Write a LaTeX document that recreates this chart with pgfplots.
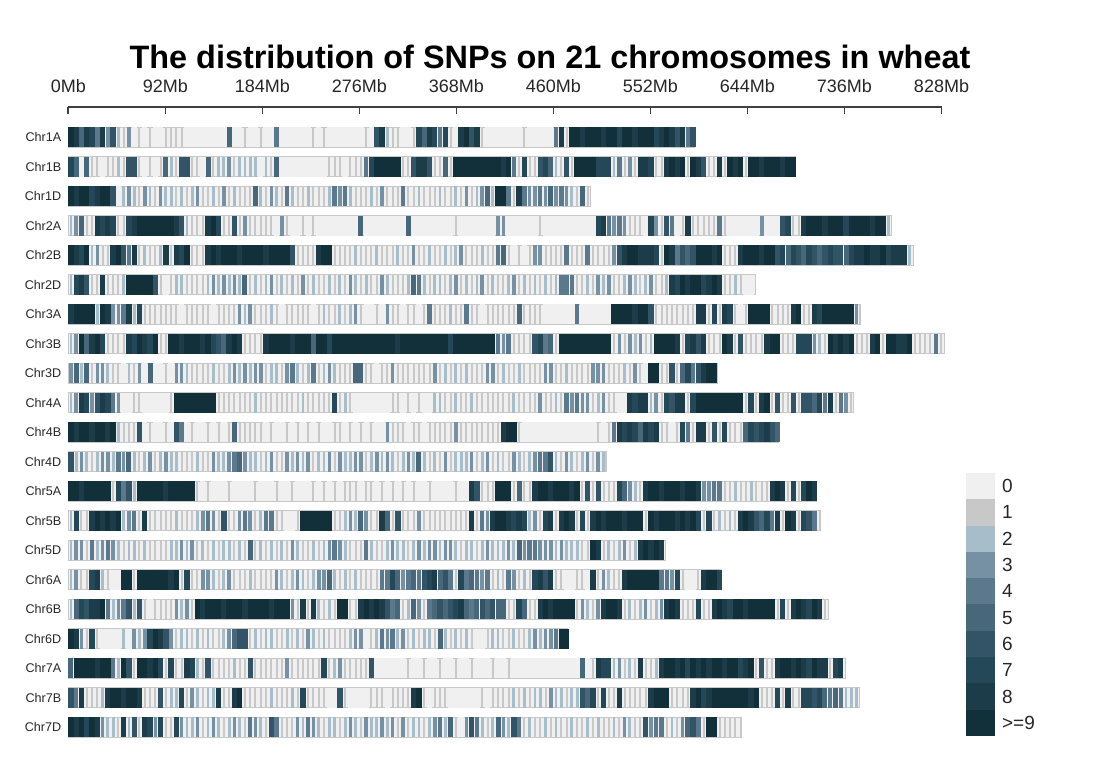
\documentclass[border=0pt]{standalone}
\usepackage{pgfplots}
\pgfplotsset{compat=1.18}
\usepackage{fontspec}
\setmainfont{Liberation Sans}
\definecolor{c0}{HTML}{F0F0F0}
\definecolor{c1}{HTML}{C8C8C8}
\definecolor{c2}{HTML}{A8BDCA}
\definecolor{c3}{HTML}{7690A4}
\definecolor{c4}{HTML}{5B788C}
\definecolor{c5}{HTML}{49677A}
\definecolor{c6}{HTML}{325466}
\definecolor{c7}{HTML}{254859}
\definecolor{c8}{HTML}{1B3C48}
\definecolor{c9}{HTML}{12303A}
\pgfplotsset{
  stripe/.style={scatter, only marks, mark=|, mark size=5pt,
    scatter src=explicit symbolic,
    scatter/classes={0={draw=c0,line width=2.7pt},1={draw=c1,line width=1.0pt},2={draw=c2,line width=1.4pt},3={draw=c3,line width=1.8pt},4={draw=c4,line width=2.2pt},5={draw=c5,line width=2.5pt},6={draw=c6,line width=2.7pt},7={draw=c7,line width=2.7pt},8={draw=c8,line width=2.7pt},9={draw=c9,line width=2.7pt}}},
  legendstripe/.style={scatter, only marks, mark=|, mark size=6.6pt,
    scatter src=explicit symbolic,
    scatter/classes={0={draw=c0},1={draw=c1},2={draw=c2},3={draw=c3},4={draw=c4},5={draw=c5},6={draw=c6},7={draw=c7},8={draw=c8},9={draw=c9}},
    mark options={line width=14.6pt}},
}
\begin{document}
\begin{tikzpicture}
\path[use as bounding box] (0,0) rectangle (549pt,-390pt);
\node[anchor=base, font=\bfseries\fontsize{16.2}{19}\selectfont] at (275pt,-34.15pt) {The distribution of SNPs on 21 chromosomes in wheat};
\begin{axis}[
  at={(34.15pt,-53.35pt)}, anchor=north west,
  scale only axis, width=436.6pt, height=317.7pt,
  xmin=0, xmax=828, ymin=-1.037, ymax=20.5, y dir=reverse,
  clip=false,
  axis x line*=top, axis y line*=left,
  x axis line style={-, draw=black!75, line width=0.8pt},
  y axis line style={draw=none},
  tick align=inside, major tick length=3.8pt,
  xtick style={draw=black!75, line width=0.8pt},
  ytick style={draw=none},
  xtick={0,92,184,276,368,460,552,644,736,828},
  xticklabels={0Mb,92Mb,184Mb,276Mb,368Mb,460Mb,552Mb,644Mb,736Mb,828Mb},
  xticklabel style={font=\fontsize{9}{10}\selectfont, text=black!85, inner sep=0pt, yshift=6.7pt},
  ytick={0,...,20},
  yticklabels={Chr1A,Chr1B,Chr1D,Chr2A,Chr2B,Chr2D,Chr3A,Chr3B,Chr3D,Chr4A,Chr4B,Chr4D,Chr5A,Chr5B,Chr5D,Chr6A,Chr6B,Chr6D,Chr7A,Chr7B,Chr7D},
  yticklabel style={font=\fontsize{6.3}{7}\selectfont, text=black!85},
]
\addplot[xbar, bar width=10pt, fill=c0, draw=c1, line width=0.6pt] coordinates {
(594.1,0) (689.9,1) (495.5,2) (780.8,3) (801.3,4) (651.9,5) (750.8,6) (830.8,7) (615.6,8) (744.6,9) (673.6,10)
(509.9,11) (709.8,12) (713.1,13) (566.1,14) (618.1,15) (720.9,16) (473.6,17) (736.7,18) (750.6,19) (638.7,20)};
% Chr1A
\addplot[stripe] table[row sep=\\, header=false, x expr=\coordindex*5+2.5, y expr=0, meta index=0] {
9\\8\\5\\8\\7\\4\\8\\3\\6\\2\\
1\\3\\0\\1\\0\\1\\0\\0\\1\\1\\
1\\1\\0\\0\\0\\0\\0\\0\\0\\0\\
5\\0\\0\\1\\0\\0\\1\\0\\0\\4\\
0\\0\\0\\0\\0\\0\\1\\0\\1\\0\\
0\\0\\0\\0\\0\\0\\1\\0\\6\\8\\
2\\1\\1\\0\\0\\1\\7\\5\\8\\7\\
4\\7\\1\\0\\8\\9\\6\\8\\1\\0\\
0\\0\\0\\0\\0\\0\\1\\0\\0\\0\\
0\\0\\4\\8\\1\\9\\9\\8\\9\\9\\
9\\8\\9\\9\\7\\9\\9\\8\\9\\9\\
9\\7\\8\\9\\8\\6\\8\\4\\6\\
};
% Chr1B
\addplot[stripe] table[row sep=\\, header=false, x expr=\coordindex*5+2.5, y expr=1, meta index=0] {
7\\5\\0\\5\\1\\1\\0\\1\\1\\2\\
1\\6\\6\\1\\0\\1\\0\\1\\5\\2\\
1\\6\\6\\1\\1\\0\\5\\1\\2\\2\\
3\\1\\2\\2\\2\\2\\0\\2\\1\\5\\
0\\0\\0\\0\\0\\0\\0\\0\\0\\1\\
1\\1\\0\\1\\1\\1\\4\\7\\9\\9\\
9\\9\\9\\1\\1\\6\\8\\8\\6\\1\\
1\\5\\1\\9\\9\\9\\9\\9\\9\\9\\
9\\9\\8\\9\\4\\1\\7\\1\\1\\6\\
7\\5\\2\\1\\6\\1\\9\\9\\9\\9\\
7\\7\\7\\2\\4\\1\\3\\1\\8\\8\\
7\\1\\1\\8\\9\\8\\9\\1\\9\\8\\
6\\1\\1\\8\\1\\9\\8\\9\\1\\9\\
9\\8\\9\\9\\9\\8\\9\\9\\
};
% Chr1D
\addplot[stripe] table[row sep=\\, header=false, x expr=\coordindex*5+2.5, y expr=2, meta index=0] {
9\\8\\9\\9\\7\\8\\9\\9\\6\\0\\
2\\3\\2\\1\\3\\2\\1\\3\\2\\2\\
1\\2\\1\\2\\3\\1\\1\\2\\1\\3\\
1\\2\\1\\1\\1\\5\\2\\1\\3\\2\\
1\\4\\2\\1\\1\\2\\1\\1\\1\\2\\
4\\3\\4\\2\\1\\1\\1\\2\\1\\3\\
1\\1\\1\\4\\1\\1\\2\\1\\1\\1\\
2\\1\\1\\2\\1\\3\\1\\2\\3\\5\\
2\\9\\9\\4\\1\\8\\4\\3\\3\\4\\
3\\5\\3\\4\\3\\2\\1\\5\\1\\
};
% Chr2A
\addplot[stripe] table[row sep=\\, header=false, x expr=\coordindex*5+2.5, y expr=3, meta index=0] {
2\\3\\5\\1\\1\\8\\7\\8\\7\\1\\
1\\7\\8\\9\\9\\9\\9\\9\\9\\9\\
8\\6\\2\\1\\1\\1\\8\\9\\7\\1\\
1\\6\\1\\3\\1\\1\\1\\1\\1\\0\\
3\\1\\0\\0\\1\\0\\1\\0\\0\\0\\
0\\0\\0\\0\\0\\5\\0\\0\\0\\0\\
0\\0\\0\\0\\5\\0\\0\\0\\0\\0\\
0\\0\\0\\1\\0\\0\\0\\0\\0\\0\\
0\\3\\3\\0\\0\\0\\0\\0\\0\\1\\
0\\0\\0\\0\\0\\0\\0\\0\\0\\0\\
7\\8\\4\\3\\4\\3\\1\\1\\1\\0\\
7\\3\\1\\6\\4\\0\\1\\8\\1\\1\\
1\\1\\1\\4\\1\\0\\0\\0\\0\\0\\
0\\3\\0\\0\\0\\6\\7\\1\\1\\8\\
9\\9\\9\\8\\9\\9\\9\\7\\9\\9\\
9\\9\\8\\9\\9\\2\\
};
% Chr2B
\addplot[stripe] table[row sep=\\, header=false, x expr=\coordindex*5+2.5, y expr=4, meta index=0] {
9\\8\\7\\9\\2\\3\\1\\1\\8\\9\\
6\\4\\8\\1\\2\\1\\1\\2\\8\\1\\
8\\7\\9\\1\\1\\1\\8\\9\\8\\9\\
9\\9\\8\\9\\9\\9\\9\\8\\9\\9\\
9\\9\\6\\1\\1\\1\\1\\8\\9\\9\\
1\\1\\1\\1\\2\\1\\1\\1\\2\\1\\
1\\1\\2\\1\\1\\3\\1\\1\\2\\1\\
1\\2\\1\\2\\3\\1\\1\\1\\2\\1\\
1\\4\\5\\1\\0\\1\\0\\1\\3\\3\\
1\\1\\1\\1\\4\\1\\1\\1\\4\\1\\
1\\1\\1\\3\\6\\8\\9\\9\\8\\8\\
8\\7\\1\\9\\8\\4\\6\\5\\6\\9\\
9\\9\\8\\9\\1\\1\\1\\8\\9\\9\\
9\\8\\9\\9\\6\\7\\5\\7\\6\\5\\
7\\6\\5\\6\\7\\6\\6\\5\\7\\8\\
8\\9\\8\\8\\9\\7\\8\\8\\8\\2\\
};
% Chr2D
\addplot[stripe] table[row sep=\\, header=false, x expr=\coordindex*5+2.5, y expr=5, meta index=0] {
2\\7\\8\\6\\1\\1\\8\\1\\1\\1\\
2\\9\\9\\9\\9\\9\\6\\1\\0\\1\\
2\\2\\1\\1\\1\\1\\2\\3\\2\\3\\
2\\3\\2\\5\\1\\2\\1\\2\\3\\1\\
2\\1\\2\\1\\3\\1\\2\\1\\1\\2\\
1\\2\\1\\3\\2\\1\\2\\1\\1\\3\\
2\\1\\1\\1\\2\\5\\4\\2\\1\\2\\
2\\1\\2\\3\\1\\2\\1\\2\\3\\1\\
2\\1\\1\\2\\3\\1\\2\\1\\2\\1\\
2\\1\\2\\4\\4\\4\\1\\1\\2\\1\\
3\\2\\3\\1\\1\\2\\3\\2\\1\\2\\
3\\1\\1\\2\\8\\7\\9\\8\\9\\9\\
7\\8\\9\\8\\1\\1\\2\\1\\0\\0\\
};
% Chr3A
\addplot[stripe] table[row sep=\\, header=false, x expr=\coordindex*5+2.5, y expr=6, meta index=0] {
8\\9\\9\\9\\9\\2\\9\\8\\3\\3\\
4\\8\\2\\7\\1\\1\\1\\1\\1\\1\\
1\\0\\1\\1\\1\\1\\1\\0\\1\\1\\
1\\1\\3\\2\\3\\1\\1\\1\\2\\1\\
0\\1\\1\\1\\1\\1\\0\\1\\2\\1\\
1\\2\\1\\2\\3\\1\\0\\0\\1\\0\\
3\\1\\1\\0\\1\\1\\0\\1\\4\\1\\
1\\1\\2\\1\\1\\4\\1\\1\\0\\1\\
1\\1\\1\\1\\1\\5\\1\\1\\1\\1\\
0\\0\\0\\0\\0\\0\\4\\0\\0\\0\\
0\\0\\0\\9\\9\\9\\9\\8\\9\\9\\
6\\1\\1\\1\\1\\1\\1\\1\\1\\8\\
8\\1\\7\\1\\8\\7\\1\\0\\1\\9\\
9\\9\\9\\1\\1\\1\\1\\8\\9\\1\\
1\\8\\7\\9\\9\\9\\9\\9\\9\\3\\
};
% Chr3B
\addplot[stripe] table[row sep=\\, header=false, x expr=\coordindex*5+2.5, y expr=7, meta index=0] {
2\\3\\9\\5\\8\\9\\7\\1\\1\\1\\
1\\8\\7\\9\\8\\7\\9\\1\\1\\9\\
9\\8\\9\\9\\9\\8\\9\\7\\6\\5\\
8\\9\\8\\1\\1\\1\\1\\8\\9\\9\\
9\\9\\8\\9\\9\\9\\5\\9\\9\\7\\
9\\9\\9\\9\\9\\9\\9\\9\\9\\9\\
9\\9\\8\\9\\9\\9\\9\\9\\9\\9\\
9\\9\\7\\9\\9\\9\\9\\9\\9\\9\\
9\\4\\3\\4\\1\\1\\1\\1\\6\\7\\
4\\5\\1\\9\\9\\9\\9\\9\\9\\9\\
9\\9\\9\\1\\3\\1\\3\\2\\3\\1\\
2\\9\\9\\9\\9\\8\\1\\7\\8\\6\\
8\\1\\1\\1\\9\\8\\1\\6\\1\\1\\
1\\1\\8\\9\\9\\1\\1\\1\\7\\7\\
7\\3\\2\\1\\9\\8\\9\\8\\9\\1\\
1\\1\\8\\9\\1\\9\\9\\8\\8\\9\\
1\\1\\1\\1\\4\\1\\
};
% Chr3D
\addplot[stripe] table[row sep=\\, header=false, x expr=\coordindex*5+2.5, y expr=8, meta index=0] {
3\\5\\2\\5\\1\\3\\3\\2\\1\\1\\
0\\2\\1\\3\\0\\5\\0\\0\\1\\0\\
3\\3\\2\\1\\1\\1\\1\\2\\1\\1\\
2\\3\\2\\3\\2\\3\\3\\1\\2\\2\\
1\\3\\4\\2\\1\\2\\4\\1\\2\\3\\
2\\1\\1\\1\\5\\5\\1\\1\\0\\1\\
1\\3\\1\\1\\1\\1\\1\\1\\1\\3\\
1\\2\\1\\2\\1\\2\\1\\1\\1\\3\\
3\\1\\2\\1\\1\\2\\1\\1\\1\\1\\
3\\3\\1\\1\\2\\1\\1\\1\\1\\3\\
3\\3\\1\\1\\1\\2\\1\\3\\1\\0\\
9\\9\\1\\1\\6\\1\\5\\7\\4\\6\\
8\\9\\9\\
};
% Chr4A
\addplot[stripe] table[row sep=\\, header=false, x expr=\coordindex*5+2.5, y expr=9, meta index=0] {
2\\3\\8\\7\\3\\6\\8\\7\\4\\3\\
0\\0\\1\\1\\0\\0\\0\\0\\0\\1\\
9\\9\\9\\9\\9\\9\\9\\9\\1\\1\\
1\\1\\1\\1\\1\\2\\1\\1\\1\\1\\
1\\1\\1\\1\\2\\1\\1\\1\\1\\1\\
7\\1\\2\\1\\0\\0\\0\\0\\0\\0\\
0\\1\\1\\0\\1\\0\\1\\0\\0\\2\\
2\\1\\1\\2\\1\\1\\2\\1\\1\\1\\
1\\1\\1\\1\\2\\1\\1\\1\\1\\3\\
1\\1\\2\\1\\4\\3\\4\\3\\3\\1\\
2\\3\\1\\1\\0\\0\\8\\7\\8\\8\\
2\\3\\1\\7\\6\\8\\8\\1\\7\\9\\
9\\9\\9\\9\\9\\9\\9\\9\\1\\7\\
1\\8\\9\\1\\6\\1\\1\\6\\1\\6\\
6\\5\\7\\4\\8\\1\\4\\3\\1\\
};
% Chr4B
\addplot[stripe] table[row sep=\\, header=false, x expr=\coordindex*5+2.5, y expr=10, meta index=0] {
9\\8\\9\\9\\8\\9\\9\\8\\9\\2\\
1\\1\\1\\6\\0\\1\\0\\0\\1\\0\\
6\\4\\0\\1\\0\\0\\1\\0\\1\\0\\
1\\5\\1\\1\\1\\1\\1\\0\\1\\0\\
0\\1\\0\\1\\0\\1\\0\\1\\0\\0\\
1\\1\\0\\1\\0\\1\\0\\1\\0\\0\\
3\\1\\1\\1\\0\\1\\1\\0\\1\\1\\
1\\1\\1\\3\\1\\1\\1\\1\\1\\1\\
1\\1\\8\\9\\9\\1\\0\\0\\0\\0\\
0\\0\\0\\0\\0\\0\\0\\0\\0\\0\\
1\\0\\1\\4\\8\\7\\8\\7\\5\\8\\
7\\8\\1\\1\\0\\1\\7\\4\\1\\8\\
8\\1\\6\\1\\7\\1\\1\\1\\5\\7\\
6\\7\\8\\6\\5\\
};
% Chr4D
\addplot[stripe] table[row sep=\\, header=false, x expr=\coordindex*5+2.5, y expr=11, meta index=0] {
6\\2\\3\\2\\1\\2\\3\\3\\2\\4\\
3\\5\\2\\1\\2\\3\\1\\2\\3\\2\\
2\\1\\1\\1\\2\\1\\1\\3\\2\\2\\
3\\4\\5\\3\\2\\2\\1\\2\\3\\1\\
1\\3\\2\\3\\2\\3\\1\\2\\2\\3\\
1\\3\\2\\2\\3\\3\\1\\2\\3\\2\\
3\\2\\1\\2\\3\\2\\5\\2\\1\\2\\
1\\3\\1\\2\\2\\2\\3\\1\\2\\3\\
1\\2\\1\\1\\3\\2\\1\\2\\3\\4\\
4\\6\\2\\1\\3\\2\\1\\2\\3\\1\\
3\\2\\
};
% Chr5A
\addplot[stripe] table[row sep=\\, header=false, x expr=\coordindex*5+2.5, y expr=12, meta index=0] {
9\\9\\8\\9\\9\\9\\9\\9\\1\\7\\
4\\6\\2\\9\\9\\9\\9\\9\\8\\9\\
9\\9\\9\\9\\1\\0\\1\\0\\0\\0\\
1\\0\\0\\0\\0\\1\\0\\0\\0\\1\\
0\\0\\1\\0\\0\\0\\1\\0\\1\\0\\
1\\0\\1\\1\\1\\0\\1\\1\\0\\1\\
0\\1\\0\\1\\0\\1\\0\\0\\1\\0\\
0\\0\\0\\1\\0\\0\\8\\6\\1\\1\\
1\\9\\9\\9\\1\\5\\1\\1\\8\\9\\
9\\8\\9\\9\\9\\8\\9\\1\\6\\1\\
6\\1\\1\\1\\7\\5\\3\\2\\1\\8\\
9\\9\\8\\9\\9\\9\\8\\9\\9\\8\\
3\\3\\4\\4\\1\\1\\2\\1\\1\\2\\
1\\1\\1\\8\\9\\8\\1\\7\\1\\7\\
9\\8\\
};
% Chr5B
\addplot[stripe] table[row sep=\\, header=false, x expr=\coordindex*5+2.5, y expr=13, meta index=0] {
2\\7\\1\\1\\8\\9\\8\\9\\8\\9\\
2\\3\\4\\1\\8\\1\\1\\1\\1\\1\\
2\\1\\1\\1\\2\\3\\4\\3\\1\\6\\
1\\1\\3\\4\\3\\1\\2\\4\\4\\1\\
1\\0\\0\\1\\9\\9\\9\\9\\9\\9\\
1\\1\\2\\3\\2\\5\\3\\1\\1\\8\\
5\\1\\6\\1\\1\\1\\3\\1\\1\\1\\
1\\1\\1\\1\\1\\1\\8\\1\\4\\3\\
8\\9\\9\\8\\7\\8\\7\\2\\3\\1\\
7\\8\\1\\8\\9\\8\\1\\7\\1\\8\\
9\\8\\9\\9\\9\\8\\9\\9\\9\\1\\
9\\8\\9\\9\\9\\8\\9\\8\\9\\7\\
1\\7\\1\\2\\1\\2\\1\\8\\9\\8\\
6\\5\\7\\4\\8\\1\\9\\8\\1\\7\\
6\\4\\1\\
};
% Chr5D
\addplot[stripe] table[row sep=\\, header=false, x expr=\coordindex*5+2.5, y expr=14, meta index=0] {
2\\3\\3\\1\\4\\2\\3\\4\\3\\2\\
1\\2\\2\\1\\2\\1\\1\\1\\1\\2\\
2\\3\\2\\3\\1\\2\\1\\2\\1\\2\\
2\\1\\2\\1\\5\\1\\2\\1\\2\\1\\
2\\1\\3\\2\\1\\1\\2\\1\\2\\3\\
4\\3\\2\\1\\1\\1\\4\\2\\1\\1\\
2\\3\\2\\2\\1\\2\\3\\2\\3\\3\\
2\\3\\3\\2\\1\\2\\2\\1\\2\\3\\
2\\2\\2\\3\\2\\5\\3\\4\\4\\3\\
3\\3\\2\\3\\2\\2\\2\\1\\1\\9\\
8\\1\\2\\1\\2\\3\\1\\2\\8\\9\\
8\\9\\8\\
};
% Chr6A
\addplot[stripe] table[row sep=\\, header=false, x expr=\coordindex*5+2.5, y expr=15, meta index=0] {
2\\3\\1\\1\\7\\8\\2\\1\\0\\0\\
9\\9\\1\\9\\9\\9\\9\\9\\9\\8\\
9\\1\\7\\1\\1\\3\\3\\2\\1\\2\\
3\\1\\1\\1\\2\\1\\1\\1\\1\\3\\
2\\1\\2\\3\\2\\1\\2\\3\\3\\5\\
2\\1\\2\\1\\2\\1\\1\\1\\1\\4\\
4\\7\\5\\3\\4\\5\\4\\6\\7\\8\\
5\\6\\4\\1\\7\\4\\5\\4\\3\\4\\
1\\2\\1\\4\\3\\1\\2\\1\\7\\8\\
6\\8\\1\\1\\0\\0\\1\\1\\0\\8\\
1\\3\\2\\1\\1\\8\\9\\9\\9\\9\\
9\\9\\4\\4\\3\\7\\1\\0\\0\\1\\
8\\9\\9\\7\\
};
% Chr6B
\addplot[stripe] table[row sep=\\, header=false, x expr=\coordindex*5+2.5, y expr=16, meta index=0] {
2\\5\\7\\6\\8\\8\\9\\4\\2\\3\\
4\\6\\2\\6\\1\\0\\1\\1\\1\\1\\
3\\2\\3\\1\\9\\8\\9\\9\\9\\8\\
9\\9\\9\\8\\9\\9\\9\\9\\8\\9\\
9\\9\\3\\1\\8\\1\\8\\2\\1\\2\\
1\\9\\9\\1\\1\\8\\9\\8\\9\\8\\
6\\4\\5\\1\\2\\5\\3\\1\\4\\5\\
6\\5\\6\\7\\8\\5\\4\\5\\6\\5\\
6\\5\\5\\1\\1\\7\\5\\1\\1\\8\\
9\\8\\9\\9\\9\\9\\1\\3\\2\\1\\
3\\8\\9\\9\\8\\1\\2\\1\\2\\3\\
1\\2\\3\\8\\9\\8\\1\\1\\1\\7\\
1\\1\\8\\9\\8\\7\\9\\9\\8\\9\\
9\\9\\9\\9\\1\\7\\1\\8\\9\\8\\
7\\9\\8\\1\\
};
% Chr6D
\addplot[stripe] table[row sep=\\, header=false, x expr=\coordindex*5+2.5, y expr=17, meta index=0] {
9\\8\\3\\1\\7\\1\\0\\0\\0\\0\\
2\\0\\3\\2\\3\\7\\9\\8\\6\\3\\
1\\2\\2\\1\\2\\1\\2\\1\\1\\2\\
3\\5\\6\\6\\1\\2\\1\\2\\2\\1\\
1\\2\\1\\2\\1\\3\\2\\1\\2\\1\\
1\\1\\1\\2\\3\\3\\0\\1\\2\\4\\
3\\4\\2\\3\\1\\2\\1\\2\\2\\1\\
5\\2\\1\\2\\1\\2\\1\\0\\0\\1\\
2\\2\\1\\1\\2\\1\\1\\2\\3\\2\\
3\\3\\4\\9\\9\\
};
% Chr7A
\addplot[stripe] table[row sep=\\, header=false, x expr=\coordindex*5+2.5, y expr=18, meta index=0] {
5\\9\\9\\9\\9\\8\\9\\9\\4\\2\\
9\\6\\1\\9\\9\\8\\9\\7\\1\\7\\
1\\1\\8\\7\\2\\1\\6\\1\\1\\1\\
1\\2\\1\\1\\6\\1\\1\\1\\1\\1\\
1\\3\\1\\1\\1\\1\\1\\1\\7\\1\\
2\\3\\1\\1\\1\\1\\1\\6\\0\\0\\
0\\0\\0\\0\\1\\0\\0\\1\\0\\0\\
1\\0\\0\\1\\0\\0\\1\\0\\0\\0\\
1\\0\\0\\1\\0\\0\\0\\0\\0\\0\\
0\\0\\0\\0\\0\\0\\0\\5\\0\\1\\
8\\7\\7\\2\\3\\1\\2\\1\\8\\1\\
1\\2\\8\\9\\9\\8\\9\\7\\9\\8\\
9\\8\\9\\9\\8\\9\\9\\7\\8\\9\\
1\\6\\1\\1\\8\\9\\9\\8\\9\\8\\
7\\9\\8\\8\\1\\7\\8\\
};
% Chr7B
\addplot[stripe] table[row sep=\\, header=false, x expr=\coordindex*5+2.5, y expr=19, meta index=0] {
6\\4\\8\\1\\1\\1\\2\\8\\9\\9\\
8\\9\\9\\8\\1\\1\\1\\6\\1\\2\\
2\\7\\1\\3\\2\\1\\2\\2\\8\\1\\
1\\8\\9\\1\\1\\1\\1\\1\\2\\1\\
1\\1\\2\\1\\7\\1\\1\\1\\1\\0\\
0\\6\\1\\0\\0\\0\\0\\1\\1\\1\\
0\\1\\1\\1\\1\\8\\9\\1\\0\\1\\
1\\1\\0\\0\\0\\0\\0\\0\\1\\0\\
1\\1\\1\\1\\2\\1\\2\\1\\2\\2\\
1\\3\\2\\2\\1\\2\\2\\6\\5\\7\\
1\\7\\1\\1\\8\\1\\1\\1\\1\\1\\
8\\9\\9\\9\\1\\1\\1\\1\\8\\9\\
7\\8\\9\\9\\9\\9\\9\\9\\9\\8\\
9\\1\\1\\1\\7\\1\\8\\1\\1\\7\\
7\\6\\7\\5\\4\\5\\4\\2\\2\\2\\
};
% Chr7D
\addplot[stripe] table[row sep=\\, header=false, x expr=\coordindex*5+2.5, y expr=20, meta index=0] {
9\\8\\9\\7\\9\\8\\3\\2\\2\\1\\
8\\2\\6\\1\\8\\7\\3\\7\\1\\1\\
7\\3\\2\\2\\3\\1\\2\\3\\2\\1\\
2\\3\\2\\1\\4\\3\\2\\1\\6\\4\\
1\\1\\1\\3\\2\\4\\3\\2\\1\\2\\
2\\1\\2\\3\\2\\1\\3\\2\\2\\3\\
2\\3\\1\\3\\1\\2\\2\\1\\2\\3\\
4\\2\\5\\1\\0\\3\\6\\4\\2\\1\\
2\\5\\3\\2\\6\\4\\1\\2\\1\\1\\
2\\1\\2\\1\\1\\2\\1\\1\\2\\1\\
2\\1\\1\\2\\1\\3\\2\\1\\1\\6\\
3\\4\\4\\1\\2\\1\\3\\5\\6\\4\\
1\\9\\9\\1\\1\\1\\1\\1\\
};
\end{axis}
\begin{axis}[
  at={(483pt,-236.5pt)}, anchor=north west,
  scale only axis, width=14.5pt, height=131.5pt,
  xmin=-0.5, xmax=0.5, ymin=-0.5, ymax=9.5, y dir=reverse,
  clip=false,
  axis line style={draw=none}, tick style={draw=none},
  xtick=\empty, ytick={0,...,9},
  yticklabels={0,1,2,3,4,5,6,7,8,{>=9}},
  yticklabel pos=right,
  yticklabel style={font=\fontsize{9.5}{11}\selectfont, text=black!85},
]
\addplot[legendstripe] table[row sep=\\, header=false, x expr=0, y expr=\coordindex, meta index=0] {
0\\1\\2\\3\\4\\5\\6\\7\\8\\9\\
};
\end{axis}
\end{tikzpicture}
\end{document}
